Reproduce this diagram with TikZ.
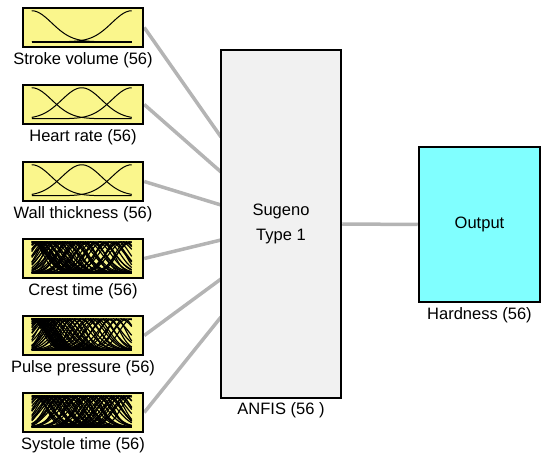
\documentclass[tikz,border=0pt]{standalone}
\usepackage{fontspec}
\setmainfont{Liberation Sans}
\usetikzlibrary{backgrounds}
\definecolor{mfyellow}{RGB}{250,246,140}
\definecolor{outcyan}{RGB}{128,255,255}
\definecolor{midgray}{RGB}{241,241,241}
\definecolor{linkgray}{RGB}{180,180,180}
\tikzset{
  lbl/.style={font=\fontsize{16.5}{20}\selectfont, inner sep=0pt},
  inbox/.style={draw=black, line width=2.5pt, fill=mfyellow, minimum width=120pt, minimum height=39pt, inner sep=0pt},
  midbox/.style={draw=black, line width=2.5pt, fill=midgray, minimum width=120pt, minimum height=348pt, inner sep=0pt, align=center, font=\fontsize{16.5}{25}\selectfont},
  outbox/.style={draw=black, line width=2.5pt, fill=outcyan, minimum width=121pt, minimum height=155pt, inner sep=0pt, font=\fontsize{16.5}{20}\selectfont},
  link/.style={draw=linkgray, line width=3.5pt},
  mfline/.style={black, line width=1pt},
  mfdense/.style={black, line width=1.2pt}
}
\newcommand\mfgauss[3]{\draw[#3] plot[domain=0:1,samples=40,smooth] ({10+100*\x},{35-31*exp(-((\x-#1)^2)/(2*(#2)^2))});}
\begin{document}
\begin{tikzpicture}[x=1pt,y=-1pt]
\useasboundingbox (0,0) rectangle (550,465);
% input boxes
\node[inbox] (in1) at (83,27.5) {};
\node[inbox] (in2) at (83,104.5) {};
\node[inbox] (in3) at (83,181.5) {};
\node[inbox] (in4) at (83,258.5) {};
\node[inbox] (in5) at (83,335.5) {};
\node[inbox] (in6) at (83,412.5) {};
% labels
\node[lbl] (l1) at (83,60) {Stroke volume (56)};
\node[lbl] (l2) at (83,137) {Heart rate (56)};
\node[lbl] (l3) at (83,214) {Wall thickness (56)};
\node[lbl] (l4) at (83,291) {Crest time (56)};
\node[lbl] (l5) at (83,368) {Pulse pressure (56)};
\node[lbl] (l6) at (83,445) {Systole time (56)};
% membership functions
\begin{scope}[shift={(in1.north west)}]
  \mfgauss{0}{0.2}{mfline}
  \mfgauss{1}{0.2}{mfline}
  \draw[black, line width=1.6pt] (10,35) -- (110,35);
\end{scope}
\begin{scope}[shift={(in2.north west)}]
  \mfgauss{0}{0.2}{mfline}
  \mfgauss{0.5}{0.2}{mfline}
  \mfgauss{1}{0.2}{mfline}
\end{scope}
\begin{scope}[shift={(in3.north west)}]
  \mfgauss{0}{0.2}{mfline}
  \mfgauss{0.5}{0.2}{mfline}
  \mfgauss{1}{0.2}{mfline}
\end{scope}
\begin{scope}[shift={(in4.north west)}]
  \foreach \i in {1,...,56}{
    \pgfmathsetmacro\cc{(\i/56)^1.6}
    \pgfmathsetmacro\ss{0.09+0.06*abs(sin(\i*137))}
    \mfgauss{\cc}{\ss}{mfdense}
  }
\end{scope}
\begin{scope}[shift={(in5.north west)}]
  \foreach \i in {1,...,56}{
    \pgfmathsetmacro\cc{(\i/56)^2.2}
    \pgfmathsetmacro\ss{0.09+0.06*abs(sin(\i*97))}
    \mfgauss{\cc}{\ss}{mfdense}
  }
\end{scope}
\begin{scope}[shift={(in6.north west)}]
  \foreach \i in {1,...,56}{
    \pgfmathsetmacro\cc{(\i/56)^1.25}
    \pgfmathsetmacro\ss{0.09+0.06*abs(sin(\i*71))}
    \mfgauss{\cc}{\ss}{mfdense}
  }
\end{scope}
% middle and output
\node[midbox] (mid) at (281,224) {Sugeno\\Type 1};
\node[lbl] (lmid) at (281,410) {ANFIS (56 )};
\node[outbox] (out) at (479.5,224.5) {Output};
\node[lbl] (lout) at (479.5,315) {Hardness (56)};
% attachment points
\coordinate (a1) at (221,137);
\coordinate (a2) at (221,172);
\coordinate (a3) at (221,205);
\coordinate (a4) at (221,240);
\coordinate (a5) at (221,279);
\coordinate (a6) at (221,317);
\begin{scope}[on background layer]
  \draw[link] (in1.east) -- (a1);
  \draw[link] (in2.east) -- (a2);
  \draw[link] (in3.east) -- (a3);
  \draw[link] (in4.east) -- (a4);
  \draw[link] (in5.east) -- (a5);
  \draw[link] (in6.east) -- (a6);
  \draw[link] (mid.east) -- (out.west);
\end{scope}
\end{tikzpicture}
\end{document}
